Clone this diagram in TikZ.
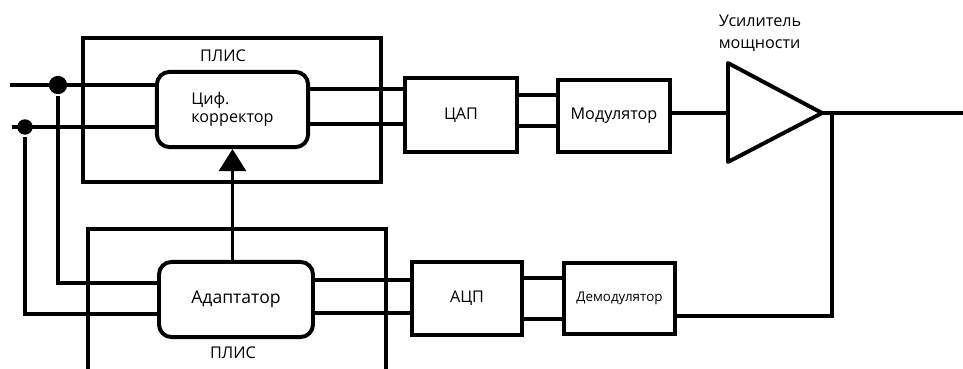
\documentclass[tikz,border=0pt]{standalone}
\usepackage{fontspec}
\setmainfont{Open Sans}
\usetikzlibrary{arrows.meta,calc}

\begin{document}
\begin{tikzpicture}[x=0.025cm, y=-0.025cm, line width=2.6pt,
    font=\fontsize{11.5}{16}\selectfont,
    blk/.style={draw,line width=2.8pt,inner sep=2pt},
    rblk/.style={blk,rounded corners=9pt},
    dot/.style={circle,fill,inner sep=0pt,minimum size=#1},
    lbl/.style={inner sep=1pt}]
    \clip (0,0) rectangle (963,369);

    % ПЛИС сверху
    \draw[line width=2.8pt] (83,38) rectangle (381,182);
    \node[lbl] (plisA) at (223,56) {ПЛИС};
    \node[rblk,minimum width=3.78cm,minimum height=1.88cm,align=left,font=\fontsize{11.5}{12.5}\selectfont] (kor) at (232.5,109.5) {Циф.\\корректор};

    % ЦАП, модулятор, усилитель
    \node[blk,minimum width=2.8cm,minimum height=1.85cm] (dac) at (461,115) {ЦАП};
    \node[blk,minimum width=2.8cm,minimum height=1.8cm] (mod) at (614,116) {Модулятор};
    \coordinate (ampin) at (728,113);
    \coordinate (ampout) at (822,113);
    \draw[line width=2.8pt,line join=round] (728,63) -- (ampout) -- (728,162) -- cycle;
    \node[lbl,align=left] (usl) at (760,33) {Усилитель\\мощности};
    \coordinate (out) at (963,113);
    \coordinate (fb) at (832,113);

    % ПЛИС снизу
    \draw[line width=2.8pt] (88,229) rectangle (386,400);
    \node[lbl] (plisB) at (233,353) {ПЛИС};
    \node[rblk,minimum width=3.85cm,minimum height=1.88cm,font=\fontsize{12.5}{16}\selectfont] (adp) at (236,299.5) {Адаптатор};
    \node[blk,minimum width=2.75cm,minimum height=1.83cm] (adc) at (467,298.5) {АЦП};
    \node[blk,minimum width=2.78cm,minimum height=1.78cm,font=\fontsize{9.5}{11}\selectfont] (dem) at (619.5,298.5) {Демодулятор};

    % входы
    \coordinate (in1) at (10,85);
    \coordinate (in2) at (12,127);
    \node[dot=13pt] (j1) at (58,85) {};
    \node[dot=11pt] (j2) at (25,127) {};
    \draw (in1) -- (in1 -| kor.west);
    \draw (in2) -- (in2 -| kor.west);
    \draw (j1) |- (adp.west |- 0,283);
    \draw (j2) |- (adp.west |- 0,314);

    % связи
    \draw (kor.east |- 0,89) -- (dac.west |- 0,89);
    \draw (kor.east |- 0,124) -- (dac.west |- 0,124);
    \draw (dac.east |- 0,95) -- (mod.west |- 0,95);
    \draw (dac.east |- 0,126) -- (mod.west |- 0,126);
    \draw (mod.east |- ampin) -- (ampin);
    \draw (ampout) -- (out);
    \draw (fb) |- (dem.east |- 0,316);
    \draw (adp.east |- 0,280) -- (adc.west |- 0,280);
    \draw (adp.east |- 0,313) -- (adc.west |- 0,313);
    \draw (adc.east |- 0,278) -- (dem.west |- 0,278);
    \draw (adc.east |- 0,319) -- (dem.west |- 0,319);
    \draw[line width=1.5pt,-{Triangle[length=0.55cm,width=0.68cm]}] (adp.north -| kor.south) -- (kor.south);
\end{tikzpicture}
\end{document}
